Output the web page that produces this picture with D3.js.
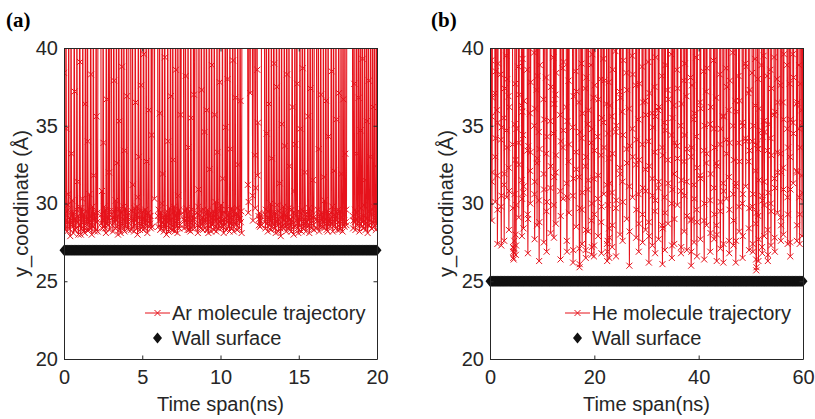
<!DOCTYPE html>
<html><head><meta charset="utf-8">
<script src="https://cdn.jsdelivr.net/npm/d3@7"></script>
<style>body{margin:0;background:#fff} svg{display:block}</style>
</head><body><svg id="c" width="815" height="419"></svg>
<script>
// (a) Ar trajectory y-values (Å), one sample every 0.025 ns (values > 40 lie above the view)
const arValues = [
38.4,28.6,29.3,28.9,28.3,48,34.8,29.5,28.2,28.8,29.9,30.6,48,28.4,29.1,28.7,27.9,29.4,48,33.2,
28.7,30.2,28.5,29.4,28.1,29.0,48,37.2,28.3,29.0,28.9,28.4,29.6,48,31.4,28.8,29.2,28.0,28.6,29.7,
48,39.1,28.6,28.0,29.7,28.4,29.1,30.3,48,28.9,28.2,29.3,28.6,28.1,36.4,48,29.5,28.7,29.0,28.3,
48,34.0,28.7,29.0,28.3,30.6,28.9,28.4,48,38.3,29.2,28.0,28.6,29.8,28.5,48,31.8,28.9,29.4,28.2,
29.1,28.3,48,35.6,28.8,29.4,28.2,48,48,48,48,48,48,48,48,28.7,29.3,30.8,28.4,29.0,
48,33.9,28.5,29.8,28.9,28.4,29.6,28.1,48,36.7,28.7,29.2,28.6,29.0,48,32.0,28.3,29.5,48,48,
48,48,29.3,28.6,29.1,28.2,29.5,48,37.9,28.8,29.0,28.4,30.2,28.9,48,32.6,28.5,29.2,28.0,29.6,
48,35.3,28.3,29.6,28.7,28.1,29.4,48,38.8,28.6,29.0,28.4,29.8,48,33.4,28.2,28.9,29.7,28.5,29.1,
48,36.9,28.4,28.8,29.4,28.3,48,48,48,48,48,29.1,28.3,28.9,29.5,48,31.2,28.5,29.0,28.2,
29.7,28.6,48,36.5,28.9,29.3,28.4,29.8,28.0,30.4,48,33.0,29.1,28.7,28.3,29.5,48,37.6,28.6,29.0,
28.5,29.5,28.3,48,39.6,29.0,28.8,28.4,29.6,28.6,48,32.7,29.3,28.1,28.9,29.4,48,36.0,28.5,29.2,
28.7,29.2,28.4,48,34.4,28.5,48,48,48,48,48,30.3,48,48,48,48,48,48,48,48,
29.2,28.5,29.6,28.9,48,35.8,28.3,29.4,28.7,28.4,30.0,48,31.9,28.8,29.1,28.2,28.6,48,39.4,28.4,
29.3,28.6,28.0,29.5,28.8,48,34.0,28.2,29.1,28.9,29.7,28.4,48,36.9,28.6,29.0,28.3,29.4,48,32.8,
28.3,29.8,28.7,28.2,29.2,48,38.6,28.5,28.9,29.4,28.1,48,30.5,28.9,29.6,28.4,28.6,48,35.7,29.3,
48,48,48,48,48,48,29.0,28.4,28.9,29.5,48,38.2,28.7,29.7,28.5,29.0,28.3,48,33.6,29.1,
28.3,28.8,29.5,28.2,48,35.5,29.6,28.4,28.9,29.2,28.6,48,37.0,29.0,28.4,48,48,48,48,48,
29.4,28.6,28.1,29.8,30.9,48,29.2,28.5,28.9,28.4,29.5,48,37.3,28.7,29.1,28.3,28.8,29.6,48,34.6,
28.4,29.0,28.8,29.3,48,36.0,28.3,29.6,28.6,28.1,29.2,48,32.2,28.9,28.5,29.4,28.2,48,38.9,28.6,
29.1,28.7,29.5,28.3,48,35.7,28.9,30.1,28.5,28.2,29.3,48,33.3,28.7,29.0,28.4,29.6,48,37.8,28.8,
28.7,29.9,28.4,28.9,29.3,48,31.6,28.5,28.1,29.0,28.6,29.4,48,34.9,28.3,29.6,28.8,48,38.0,29.2,
28.5,28.9,29.4,28.2,48,33.5,28.8,29.1,28.4,29.7,28.6,48,39.2,29.5,28.2,28.9,29.3,48,36.8,28.7,
28.6,29.3,28.3,29.7,48,32.5,28.9,29.2,28.4,29.0,48,36.6,28.8,29.5,28.1,48,48,48,48,48,
48,48,48,48,48,48,48,48,48,48,31.2,29.4,30.1,48,48,48,37.1,48,48,48,
48,48,30.5,28.9,48,48,48,48,33.1,29.7,31.0,48,48,48,38.6,31.8,35.2,29.2,28.6,29.0,
29.4,28.5,28.9,29.2,28.6,48,48,48,48,48,48,48,48,28.8,29.3,28.4,29.6,48,34.5,28.7,
29.1,28.2,29.5,48,36.4,28.6,29.0,28.9,30.0,28.3,48,32.9,28.5,29.2,28.7,29.4,48,39.0,28.4,28.9,
29.4,28.1,28.8,48,37.5,29.9,28.6,29.0,28.2,29.5,48,31.3,28.7,28.4,27.9,29.1,48,35.1,28.5,29.3,
28.4,29.8,28.9,48,33.7,28.5,29.3,28.8,28.2,48,38.3,29.1,28.6,28.4,29.7,48,32.4,28.3,29.0,28.6,
29.0,28.2,29.6,48,36.2,28.7,29.4,28.0,28.5,30.8,48,33.8,29.2,28.6,28.9,48,37.7,28.4,29.5,28.1,
28.3,29.1,28.6,48,34.8,28.9,29.4,28.2,29.6,48,38.7,28.4,28.7,29.0,28.5,48,32.0,29.3,28.2,28.8,
28.8,29.4,28.5,48,35.6,28.9,29.7,28.1,28.6,48,37.4,29.2,28.4,28.9,29.5,48,31.5,28.6,29.1,28.3,
48,48,48,48,48,48,29.0,28.4,28.9,29.6,48,33.5,28.2,29.3,28.7,28.5,48,37.0,28.9,29.4,
28.5,29.1,28.8,48,31.7,28.4,30.2,28.6,29.0,48,36.6,28.3,29.5,28.9,28.2,48,34.3,28.6,29.3,28.8,
29.0,28.5,29.4,48,38.5,28.7,29.8,28.2,28.9,48,32.1,29.3,28.6,29.0,28.4,48,35.4,28.9,29.4,28.3,
28.8,29.6,48,37.1,28.3,29.5,28.7,28.4,48,31.9,28.9,29.1,28.2,48,36.7,28.6,29.3,28.5,48,33.2,
28.8,29.6,28.6,48,48,48,48,48,48,48,48,48,48,48,48,48,48,48,29.2,28.4,
28.9,48,37.7,28.8,29.6,28.3,29.0,48,33.2,29.4,28.6,28.9,48,36.8,29.1,28.2,28.7,48,34.7,29.7,
28.5,29.0,48,39.3,28.8,29.2,28.4,29.9,48,31.5,28.7,28.3,29.1,48,35.3,29.0,28.1,28.6,48,37.9,
28.6,29.5,28.9,33.0,48,29.3,28.4,28.8,29.6,48,36.2,28.7,29.8,28.5,48,32.4,29.1,28.3,29.4,48,
28.7
];
// (b) He molecule visits to the view: start time (ns) of each visit ...
const heVisitTimes = [
0.2,0.9,1.3,2.0,2.6,3.1,3.5,4.3,4.8,5.4,6.0,6.3,7.1,7.6,8.4,8.9,9.3,10.2,10.7,11.5,
12.1,12.5,13.4,13.9,14.6,15.0,15.8,16.4,17.0,17.5,18.2,18.7,19.3,19.8,20.6,21.2,21.7,22.3,22.7,23.3,
24.0,24.8,25.3,26.1,26.6,27.2,27.9,28.4,29.1,29.7,30.3,31.0,31.5,32.2,32.9,33.4,34.0,34.7,35.2,35.8,
36.5,37.1,37.6,38.4,39.0,39.5,40.2,40.9,41.4,42.1,42.8,43.3,44.0,44.6,45.2,45.7,46.5,47.0,47.6,48.3,
48.9,49.5,50.2,50.8,51.3,52.0,52.4,53.1,53.7,54.4,55.0,55.6,56.1,56.9,57.4,58.0,58.7,59.2,59.7
];
// ... and the y-values (Å) recorded during each visit, one sample every 0.04 ns
const heVisitValues = [
[39.2,35.6,31.4,28.9,32.0,36.8],[37.1,33.0,30.1,34.2,38.5],[36.0,31.8,27.4,29.6,35.2,39.0],[38.3,34.1,29.8,27.3,30.5,34.9],
[35.5,31.2,27.6,31.9,37.4],[39.5,34.7,30.4,33.6,38.0],[36.9,32.3,28.3,30.8,36.2],[33.8,29.7,27.2,26.5,26.9,26.4,27.1,26.8,27.6,30.6,35.1],
[37.7,32.8,28.0,26.7,27.3,29.9,34.8],[38.8,33.9,29.1,32.5,37.0],[36.3,31.5,27.9,30.3,35.9,39.3],[34.4,30.7,28.4,31.1,36.6],
[38.6,33.4,29.3,26.8,29.0,33.7],[35.8,32.1,30.0,33.3,37.8],[39.7,35.0,30.6,27.7,31.4,36.1],[37.3,32.6,28.6,32.9,38.2],
[34.6,30.2,26.3,28.8,33.5,38.9],[36.7,31.9,27.5,30.9,35.4],[38.1,33.2,29.5,26.9,30.1,34.3],[35.3,31.0,28.1,32.4,37.5],
[39.4,34.5,29.9,27.8,31.7,36.4],[37.0,32.0,28.7,33.1,38.4],[35.7,30.8,26.4,29.2,34.0],[38.7,33.6,30.3,34.7,39.1],
[36.2,31.3,27.6,26.9,30.4,35.3],[37.9,32.7,29.4,33.8],[34.9,30.5,26.2,27.0,31.6,36.9],[38.5,33.3,28.5,32.2,37.2],
[36.5,31.7,27.1,25.9,26.1,29.7,34.6],[39.0,34.2,29.6,27.4,30.7,35.8],[37.4,32.4,27.0,26.5,28.3,33.0,38.1],[35.1,30.9,28.2,31.5,36.0],
[38.9,33.9,28.9,26.7,27.2,30.0,34.8,39.6],[36.8,31.6,26.6,27.3,29.3,33.4,37.6],[34.3,30.3,27.9,31.8,36.7],[38.0,33.1,28.8,26.8,29.8,35.5],
[39.3,35.2,30.6,33.6,37.9],[36.4,31.2,27.4,26.3,26.9,27.6,29.9,34.5],[37.8,32.9,28.4,26.5,27.8,31.3,36.3],[35.6,30.7,27.2,28.6,33.2,38.6],
[39.8,34.6,29.7,26.6,30.2,35.0],[37.2,32.3,28.0,31.9,36.8],[35.9,31.4,27.6,30.1,34.4,39.2],[38.4,33.5,29.0,32.6,37.3],
[36.1,31.1,26.0,28.2,33.7],[39.5,34.8,30.4,33.0,38.3],[37.6,32.5,27.8,29.6,34.1],[35.4,30.6,26.9,28.7,32.8,37.7],
[38.8,33.8,29.3,27.5,31.0,36.5],[36.6,32.2,28.3,30.8,35.7],[39.1,34.0,28.8,26.2,27.9,32.4,37.1],[35.8,31.6,27.3,30.5,34.9],
[37.5,33.3,29.5,26.8,30.2,35.6,39.4],[36.0,31.0,27.7,31.4,36.2],[38.2,33.6,28.6,26.1,28.4,33.1],[35.2,30.4,27.0,29.4,34.7,38.9],
[37.3,32.8,28.7,31.3,36.7],[39.6,34.4,30.0,26.5,27.3,30.9,35.5],[36.3,31.9,27.4,29.0,33.9],[38.6,33.7,29.9,32.9,37.4],
[35.0,30.8,26.8,27.2,31.5,36.4],[37.9,32.7,28.2,30.5,34.4,39.0],[36.9,31.4,27.0,29.2,33.5],[38.1,33.0,28.9,26.0,26.9,29.0,33.6,37.6],
[35.4,31.2,27.5,30.3,35.8],[39.4,34.3,29.6,26.6,28.8,32.3],[36.5,31.8,27.7,31.6,36.1],[38.5,33.4,28.9,26.4,30.0,35.0],
[37.2,32.6,28.6,33.2,38.7],[35.1,30.2,26.9,28.1,31.9,36.2],[39.2,34.8,31.0,27.7,29.3,33.6],[36.8,32.6,28.6,26.3,28.0,32.4],
[38.3,33.8,29.5,27.1,30.1,34.8],[35.6,31.3,26.2,27.4,30.8,35.6],[38.7,34.1,30.3,33.2,37.5],[36.0,31.7,27.6,26.8,29.6,33.9,37.9],
[39.7,35.0,30.6,27.3,28.9,32.8],[36.6,31.1,26.2,27.6,31.3,35.9],[38.2,33.9,29.8,28.2,32.7,36.6],[35.2,30.0,26.5,27.9,30.6,35.0],
[39.0,34.2,31.1,34.0,38.8],[37.1,32.7,28.4,27.0,29.7,33.4,37.3],[38.4,34.0,29.8,27.4,26.9,30.6,35.0],[39.3,36.3,32.1,28.7,26.4,25.7,25.9,29.4,33.8],
[38.0,33.5,29.2,26.3,27.7,31.5,36.1],[38.9,34.7,30.5,27.2,26.8,30.2,34.3],[39.5,35.3,31.4,27.9,29.9,34.6],[38.2,33.4,28.3,26.3,26.7,30.7,35.1],
[38.6,34.2,30.0,27.3,29.5,33.1,37.4],[39.4,35.7,31.6,27.8,26.9,31.0,35.9],[38.0,33.3,29.4,32.0,36.5],[37.6,33.2,29.1,27.6,28.6,32.0],
[36.5,32.3,28.0,30.9,35.4,39.6],[38.9,34.8,30.4,27.4,29.3,33.6],[37.7,33.0,27.5,26.6,30.9,35.4],[39.6,35.2,31.3,34.5,38.1],
[36.4,32.1,27.6,28.6,32.0,36.5],[38.9,34.8,30.4,27.4,29.3,33.6,37.7],[36.0,31.8,27.9,30.7,35.2]
];
const arStep = 0.025, heStep = 0.04;        // ns per sample
const offView = 48;                          // y of the molecule while above the view (Å)
const arWall = 27, heWall = 25;             // wall surface y (Å)
const yTicks = [20, 25, 30, 35, 40];
const arXTicks = [0, 5, 10, 15, 20];
const heXTicks = [0, 20, 40, 60];
const panelLabels = ["(a)", "(b)"];
const legendNames = ["Ar molecule trajectory", "He molecule trajectory"];
const wallName = "Wall surface";
const xTitle = "Time span(ns)";
const yTitle = "y_coordinate (Å)";

const svg = d3.select("#c");
const AX = "#262626", RED = "#e6121b", FONT = "'Liberation Sans', Arial, sans-serif";
const plotTop = 48, plotBottom = 359;

// build [time, y] point lists
const arPts = arValues.map((v, i) => [i * arStep, v]);
const hePts = [];
heVisitTimes.forEach((t, i) => {
  const vals = heVisitValues[i];
  hePts.push([t, offView]);
  vals.forEach((v, k) => hePts.push([t + (k + 1) * heStep, v]));
  hePts.push([t + (vals.length + 1) * heStep, offView]);
});

const panels = [
  {id: "a", label: panelLabels[0], pts: arPts, wall: arWall, wallStep: 0.05, xTicks: arXTicks,
   xDom: [0, 20], x0: 64, x1: 377, name: legendNames[0], labX: 6, yTitleX: 28, legX: 145, legTextX: 172},
  {id: "b", label: panelLabels[1], pts: hePts, wall: heWall, wallStep: 0.15, xTicks: heXTicks,
   xDom: [0, 60], x0: 490, x1: 803, name: legendNames[1], labX: 431, yTitleX: 453, legX: 565, legTextX: 592}
];

const xMark = "M-3,-3L3,3M-3,3L3,-3";
const diamond = "M0,-5.5L4.5,0L0,5.5L-4.5,0Z";

panels.forEach(p => {
  const x = d3.scaleLinear().domain(p.xDom).range([p.x0, p.x1]);
  const y = d3.scaleLinear().domain([20, 40]).range([plotBottom, plotTop]);
  const pts = p.pts;
  const g = svg.append("g");

  svg.append("clipPath").attr("id", "clip" + p.id).append("rect")
    .attr("x", p.x0).attr("y", plotTop).attr("width", p.x1 - p.x0).attr("height", plotBottom - plotTop);
  const cg = g.append("g").attr("clip-path", `url(#clip${p.id})`);
  cg.append("path").datum(pts)
    .attr("d", d3.line().x(d => x(d[0])).y(d => y(d[1])))
    .attr("fill", "none").attr("stroke", RED).attr("stroke-width", 1.05);
  cg.selectAll(".m").data(pts.filter(d => d[1] <= 41)).join("path")
    .attr("transform", d => `translate(${x(d[0])},${y(d[1])})`)
    .attr("d", xMark).attr("fill", "none").attr("stroke", RED).attr("stroke-width", 1);

  // wall surface (constant level)
  g.selectAll(".w").data(d3.range(p.xDom[0], p.xDom[1] + 1e-9, p.wallStep)).join("path")
    .attr("transform", d => `translate(${x(d)},${y(p.wall)})`)
    .attr("d", diamond).attr("fill", "#111");

  // axes
  const styleAxis = sel => {
    sel.selectAll("path,line").attr("stroke", AX).attr("stroke-width", 1);
    sel.selectAll("text").attr("fill", AX).attr("font-family", FONT).attr("font-size", 20);
  };
  g.append("g").attr("transform", `translate(0,${plotBottom})`)
    .call(d3.axisBottom(x).tickValues(p.xTicks).tickSize(-3.5).tickSizeOuter(0).tickPadding(11).tickFormat(d3.format("d")))
    .call(styleAxis);
  g.append("g").attr("transform", `translate(0,${plotTop})`)
    .call(d3.axisTop(x).tickValues(p.xTicks).tickSize(-3.5).tickSizeOuter(0).tickFormat(""))
    .call(styleAxis);
  g.append("g").attr("transform", `translate(${p.x0},0)`)
    .call(d3.axisLeft(y).tickValues(yTicks).tickSize(-3.5).tickSizeOuter(0).tickPadding(6).tickFormat(d3.format("d")))
    .call(styleAxis);
  g.append("g").attr("transform", `translate(${p.x1},0)`)
    .call(d3.axisRight(y).tickValues(yTicks).tickSize(-3.5).tickSizeOuter(0).tickFormat(""))
    .call(styleAxis);
  g.selectAll(".domain").attr("fill", "none");

  // titles
  g.append("text").attr("x", (p.x0 + p.x1) / 2).attr("y", 411).attr("text-anchor", "middle")
    .attr("font-family", FONT).attr("font-size", 20).attr("fill", AX).text(xTitle);
  g.append("text").attr("transform", `translate(${p.yTitleX},${(plotTop + plotBottom) / 2}) rotate(-90)`)
    .attr("text-anchor", "middle").attr("font-family", FONT).attr("font-size", 20).attr("fill", AX).text(yTitle);
  g.append("text").attr("x", p.labX).attr("y", 27).attr("font-family", "'Liberation Serif', 'Times New Roman', serif")
    .attr("font-weight", "bold").attr("font-size", 21).attr("fill", "#000").text(p.label);

  // legend
  const lg = g.append("g");
  lg.append("line").attr("x1", p.legX).attr("x2", p.legX + 25).attr("y1", 313).attr("y2", 313)
    .attr("stroke", RED).attr("stroke-width", 1);
  lg.append("path").attr("transform", `translate(${p.legX + 12.5},313)`).attr("d", xMark)
    .attr("stroke", RED).attr("stroke-width", 1).attr("fill", "none");
  lg.append("text").attr("x", p.legTextX).attr("y", 320).attr("font-family", FONT).attr("font-size", 20)
    .attr("fill", AX).text(p.name);
  lg.append("path").attr("transform", `translate(${p.legX + 12.5},338)`).attr("d", diamond).attr("fill", "#111");
  lg.append("text").attr("x", p.legTextX).attr("y", 345).attr("font-family", FONT).attr("font-size", 20)
    .attr("fill", AX).text(wallName);
});
</script>
</body></html>
